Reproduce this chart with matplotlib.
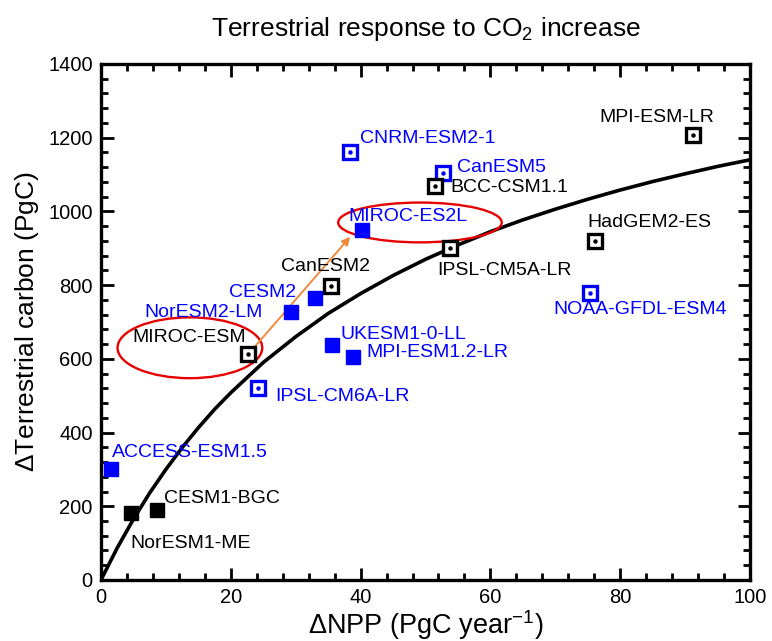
import matplotlib.pyplot as plt
import numpy as np
from matplotlib.patches import Ellipse
from matplotlib.ticker import MultipleLocator

plt.rcParams['font.family'] = ['Liberation Sans', 'DejaVu Sans']
plt.rcParams['mathtext.default'] = 'regular'

# model results: dNPP (PgC/yr), dTerrestrial carbon (PgC)
models = ['CNRM-ESM2-1', 'CanESM5', 'BCC-CSM1.1', 'MPI-ESM-LR', 'MIROC-ES2L',
          'HadGEM2-ES', 'IPSL-CM5A-LR', 'CanESM2', 'CESM2', 'NorESM2-LM',
          'MIROC-ESM', 'UKESM1-0-LL', 'MPI-ESM1.2-LR', 'IPSL-CM6A-LR',
          'NOAA-GFDL-ESM4', 'ACCESS-ESM1.5', 'CESM1-BGC', 'NorESM1-ME']
npp = [38.4, 52.7, 51.5, 91.2, 40.2, 76.1, 53.8, 35.5, 33.0, 29.3,
       22.7, 35.6, 38.9, 24.2, 75.3, 1.5, 8.6, 4.6]
carbon = [1160, 1105, 1069, 1206, 950, 920, 900, 798, 766, 726,
          612, 637, 606, 522, 779, 301, 190, 181]
# 'cmip6' -> blue, 'cmip5' -> black ; 'open' or 'filled'
generation = ['cmip6', 'cmip6', 'cmip5', 'cmip5', 'cmip6', 'cmip5', 'cmip5', 'cmip5',
              'cmip6', 'cmip6', 'cmip5', 'cmip6', 'cmip6', 'cmip6', 'cmip6', 'cmip6',
              'cmip5', 'cmip5']
style = ['open', 'open', 'open', 'open', 'filled', 'open', 'open', 'open',
         'filled', 'filled', 'open', 'filled', 'filled', 'open', 'open', 'filled',
         'filled', 'filled']

# fitted curve
curve_x = [0, 2.5, 5, 7.5, 10, 12.5, 15, 17.5, 20, 25, 30, 35, 40, 45, 50,
           55, 60, 65, 70, 75, 80, 85, 90, 95, 100]
curve_y = [0, 87, 165, 236, 300, 359, 413, 463, 508, 590, 660, 723, 777, 826, 870,
           909, 945, 977, 1006, 1033, 1058, 1081, 1102, 1122, 1140]

# label placement (pixel offsets from marker, horizontal alignment)
label_pos = {
    'CNRM-ESM2-1': (10, 14, 'left'), 'CanESM5': (14, 5, 'left'),
    'BCC-CSM1.1': (15, -2, 'left'), 'MPI-ESM-LR': (21, 18, 'right'),
    'MIROC-ES2L': (-14, 13, 'left'), 'HadGEM2-ES': (-8, 18, 'left'),
    'IPSL-CM5A-LR': (-13, -22, 'left'), 'CanESM2': (-6, 19, 'center'),
    'CESM2': (-19, 5, 'right'), 'NorESM2-LM': (-28, 0, 'right'),
    'MIROC-ESM': (-2, 17, 'right'), 'UKESM1-0-LL': (8, 11, 'left'),
    'MPI-ESM1.2-LR': (13, 4, 'left'), 'IPSL-CM6A-LR': (17, -9, 'left'),
    'NOAA-GFDL-ESM4': (-36, -17, 'left'), 'ACCESS-ESM1.5': (1, 17, 'left'),
    'CESM1-BGC': (7, 11, 'left'), 'NorESM1-ME': (0, -30, 'left'),
}

colors = {'cmip6': '#0000ff', 'cmip5': 'black'}

fig = plt.figure(figsize=(7.72, 6.41), dpi=100)
ax = fig.add_axes([0.1308, 0.0952, 0.8407, 0.805])

ax.plot(curve_x, curve_y, color='black', lw=2.6, zorder=2, solid_capstyle='round')

for name, x, y, g, s in zip(models, npp, carbon, generation, style):
    c = colors[g]
    if s == 'filled':
        ax.plot(x, y, marker='s', ms=10, color=c, mec=c, zorder=4)
    else:
        ax.plot(x, y, marker='s', ms=10.5, mfc='white', mec=c, mew=2.4, zorder=4)
        ax.plot(x, y, marker='o', ms=2.2, color=c, zorder=5)
    dx, dy, ha = label_pos[name]
    ax.annotate(name, (x, y), xytext=(dx, dy), textcoords='offset pixels',
                ha=ha, va='center', fontsize=14, color=c, zorder=6)

# highlight MIROC change
ax.add_patch(Ellipse((13.7, 630), 22.3, 165, fill=False, ec='#e60000', lw=1.7, zorder=3))
ax.add_patch(Ellipse((49.15, 970), 25.2, 108, fill=False, ec='#e60000', lw=1.7, zorder=3))
ax.annotate('', xy=(38.4, 931), xytext=(23.7, 633),
            arrowprops=dict(arrowstyle='-|>', color='#f08a3c', lw=1.4,
                            mutation_scale=12, shrinkA=0, shrinkB=0), zorder=3)

ax.set_xlim(0, 100)
ax.set_ylim(0, 1400)
ax.xaxis.set_major_locator(MultipleLocator(20))
ax.xaxis.set_minor_locator(MultipleLocator(4))
ax.yaxis.set_major_locator(MultipleLocator(200))
ax.yaxis.set_minor_locator(MultipleLocator(40))
ax.tick_params(which='both', direction='in', top=True, right=True, width=2)
ax.tick_params(which='major', length=9, labelsize=14.5, pad=6)
ax.tick_params(which='minor', length=5)
for sp in ax.spines.values():
    sp.set_linewidth(2.4)

ax.set_xlabel(r'$\Delta$NPP (PgC year$^{-1}$)', fontsize=19.5, labelpad=1)
ax.set_ylabel(r'$\Delta$Terrestrial carbon (PgC)', fontsize=19, labelpad=5)
ax.set_title(r'Terrestrial response to CO$_2$ increase', fontsize=19, pad=20)

fig.savefig('out.png', dpi=100)
